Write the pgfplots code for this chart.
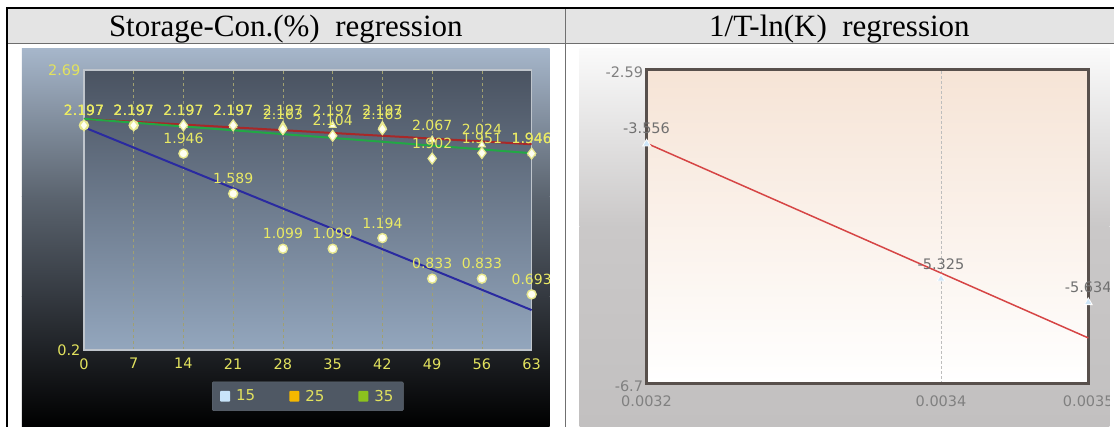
\documentclass[border=0pt]{standalone}
\usepackage{fontspec}
\setmainfont{DejaVu Sans}
\newfontfamily\headfont{Liberation Serif}
\usepackage{pgfplots}
\pgfplotsset{compat=1.18}
\usepackage{pgfplotstable}

\definecolor{hdrfill}{HTML}{E4E4E4}
\definecolor{hdrline}{HTML}{6E6E6E}
\definecolor{divc}{HTML}{707070}
\definecolor{lbl}{HTML}{EAEA64}
\definecolor{tlbl}{HTML}{E2E25E}
\definecolor{lb1}{HTML}{343940}
\definecolor{lb2}{HTML}{5B646F}
\definecolor{lb3}{HTML}{A6B6CA}
\definecolor{plottop}{HTML}{4A5361}
\definecolor{plotbot}{HTML}{93A6BD}
\definecolor{plotborder}{HTML}{BFC5CC}
\definecolor{gridc}{HTML}{A0A070}
\definecolor{regblue}{HTML}{2A2AA0}
\definecolor{regred}{HTML}{A82828}
\definecolor{reggreen}{HTML}{22A845}
\definecolor{mkfill}{HTML}{FFFFF2}
\definecolor{mkdraw}{HTML}{E8E890}
\definecolor{legfill}{HTML}{4F5864}
\definecolor{legdraw}{HTML}{646C76}
\definecolor{cA}{HTML}{C8E4FA}
\definecolor{cB}{HTML}{F5B800}
\definecolor{cC}{HTML}{8CC21E}
\definecolor{rb1}{HTML}{C2C0C0}
\definecolor{rb2}{HTML}{CAC8C8}
\definecolor{rb3}{HTML}{FAFAFA}
\definecolor{peach}{HTML}{F6E4D6}
\definecolor{rborder}{HTML}{58504C}
\definecolor{rline}{HTML}{D64545}
\definecolor{rgrid}{HTML}{BDBDBD}
\definecolor{rlbl}{HTML}{707070}
\definecolor{rtick}{HTML}{808080}
\definecolor{rmark}{HTML}{CFE6F8}

% Storage-Con. series (days, ln value, label)
\pgfplotstableread{
x y lab
0 2.197 2.197
7 2.197 2.197
14 1.946 1.946
21 1.589 1.589
28 1.099 1.099
35 1.099 1.099
42 1.194 1.194
49 0.833 0.833
56 0.833 0.833
63 0.693 0.693
}\sA
\pgfplotstableread{
x y lab
0 2.197 2.197
7 2.197 2.197
14 2.197 2.197
21 2.197 2.197
28 2.197 2.197
35 2.197 2.197
42 2.197 2.197
49 2.067 2.067
56 2.024 2.024
63 1.946 1.946
}\sB
\pgfplotstableread{
x y lab
0 2.197 2.197
7 2.197 2.197
14 2.197 2.197
21 2.197 2.197
28 2.163 2.163
35 2.104 2.104
42 2.163 2.163
49 1.902 1.902
56 1.951 1.951
63 1.946 1.946
}\sC
\pgfplotstableread{
x y lab
0.0032 -3.556 -3.556
0.0034 -5.325 -5.325
0.0035 -5.634 -5.634
}\sR

\begin{document}
\begin{tikzpicture}
\path (0pt,0pt) rectangle (1115pt,427pt);
\fill[white] (0pt,0pt) rectangle (1115pt,427pt);
% table frame
\fill[hdrfill] (7pt,383pt) rectangle (1115pt,419pt);
\draw[hdrline, line width=1pt] (7pt,383pt) -- (1115pt,383pt);
\draw[divc, line width=1.5pt] (566pt,0pt) -- (566pt,419pt);
\draw[black, line width=1.5pt] (7pt,0pt) -- (7pt,419pt) -- (1115pt,419pt);
\node[font=\headfont\fontsize{31}{34}\selectfont, text=black, anchor=base, inner sep=0pt] at (286pt,390pt) {Storage-Con.(\%)\ \ regression};
\node[font=\headfont\fontsize{31}{34}\selectfont, text=black, anchor=base, inner sep=0pt] at (840pt,390pt) {1/T-ln(K)\ \ regression};

% left panel background
\shade[bottom color=black, top color=lb1] (22pt,0pt) rectangle (550pt,130.5pt);
\shade[bottom color=lb1, top color=lb2] (22pt,130pt) rectangle (550pt,230.5pt);
\shade[bottom color=lb2, top color=lb3] (22pt,230pt) rectangle (550pt,378pt);

\begin{scope}
\clip (22pt,0pt) rectangle (550pt,378pt);
\begin{axis}[
  at={(84pt,77pt)}, anchor=south west,
  scale only axis, width=448pt, height=280pt,
  xmin=0, xmax=63, ymin=0.2, ymax=2.69,
  xtick={0,7,...,63},
  ytick={0.2,2.69}, yticklabels={0.2,2.69},
  xticklabels={0,7,14,21,28,35,42,49,56,63},
  axis background/.style={shade, top color=plottop, bottom color=plotbot},
  axis line style={draw=plotborder, line width=1.5pt},
  xmajorgrids, grid style={draw=gridc, line width=0.6pt, dash pattern=on 3pt off 3pt},
  tick style={draw=none},
  /pgf/number format/assume math mode=true,
  ticklabel style={font=\fontsize{14.5}{16}\selectfont, text=tlbl},
  xticklabel style={yshift=-5pt},
  clip=false,
  legend style={at={(0.5,0)}, anchor=north, yshift=-32pt,
    fill=legfill, draw=legdraw, text=tlbl, font=\fontsize{15}{17}\selectfont,
    inner xsep=8pt, inner ysep=6pt, rounded corners=1pt,
    /tikz/every odd column/.append style={column sep=4pt},
    /tikz/every even column/.append style={column sep=32pt}},
  legend columns=3,
  legend image code/.code={\fill[#1] (0pt,-5.5pt) rectangle (10pt,5.5pt);},
  nodes near coords,
  point meta=explicit symbolic,
  every node near coord/.append style={font=\fontsize{14}{16}\selectfont, text=lbl, anchor=center, yshift=15pt},
]
\addlegendimage{fill=cA, draw=none}\addlegendentry{15}
\addlegendimage{fill=cB, draw=none}\addlegendentry{25}
\addlegendimage{fill=cC, draw=none}\addlegendentry{35}
% regression lines
\addplot[forget plot, regblue, line width=2pt, no marks, nodes near coords=] coordinates {(0,2.18) (63,0.553)};
\addplot[forget plot, regred, line width=2pt, no marks, nodes near coords=] coordinates {(0,2.254) (63,2.029)};
\addplot[forget plot, reggreen, line width=2pt, no marks, nodes near coords=] coordinates {(0,2.255) (63,1.949)};
% data
\addplot[forget plot, only marks, mark=*, mark size=4.5pt, mark options={fill=mkfill, draw=mkdraw, line width=1.4pt}] table[x=x,y=y,meta=lab] {\sA};
\addplot[forget plot, only marks, mark=triangle*, mark size=4pt, mark options={fill=mkfill, draw=mkdraw, line width=1pt}] table[x=x,y=y,meta=lab] {\sB};
\addplot[forget plot, only marks, mark=diamond*, mark size=5.5pt, mark options={fill=mkfill, draw=mkdraw, line width=1.2pt}] table[x=x,y=y,meta=lab] {\sC};
\end{axis}
\end{scope}

% right panel background
\shade[bottom color=rb1, top color=rb2] (580pt,0pt) rectangle (1110pt,200.5pt);
\shade[bottom color=rb2, top color=rb3] (580pt,200pt) rectangle (1110pt,378pt);

\begin{scope}
\clip (580pt,0pt) rectangle (1110pt,378pt);
\begin{axis}[
  at={(647pt,43pt)}, anchor=south west,
  scale only axis, width=442pt, height=314pt,
  xmin=0.0032, xmax=0.0035, ymin=-6.7, ymax=-2.59,
  xtick={0.0032,0.0034,0.0035}, xticklabels={0.0032,0.0034,0.0035},
  ytick={-6.7,-2.59}, yticklabels={-6.7,-2.59},
  scaled x ticks=false,
  axis background/.style={shade, top color=peach, bottom color=white},
  axis line style={draw=rborder, line width=3pt},
  xmajorgrids, grid style={draw=rgrid, line width=0.8pt, dash pattern=on 3pt off 2pt},
  tick style={draw=none},
  /pgf/number format/assume math mode=true,
  ticklabel style={font=\fontsize{14.5}{16}\selectfont, text=rtick},
  xticklabel style={yshift=-8pt},
  yticklabel style={yshift=-2pt},
  clip=false,
  nodes near coords,
  point meta=explicit symbolic,
  every node near coord/.append style={font=\fontsize{14.5}{16}\selectfont, text=rlbl, anchor=center, yshift=15pt},
]
\addplot[rline, line width=1.5pt, no marks, nodes near coords=] coordinates {(0.0032,-3.55) (0.0035,-6.10)};
\addplot[only marks, mark=triangle*, mark size=4.5pt, mark options={fill=rmark, draw=white, line width=0.8pt}] table[x=x,y=y,meta=lab] {\sR};
\end{axis}
\end{scope}
\end{tikzpicture}
\end{document}
